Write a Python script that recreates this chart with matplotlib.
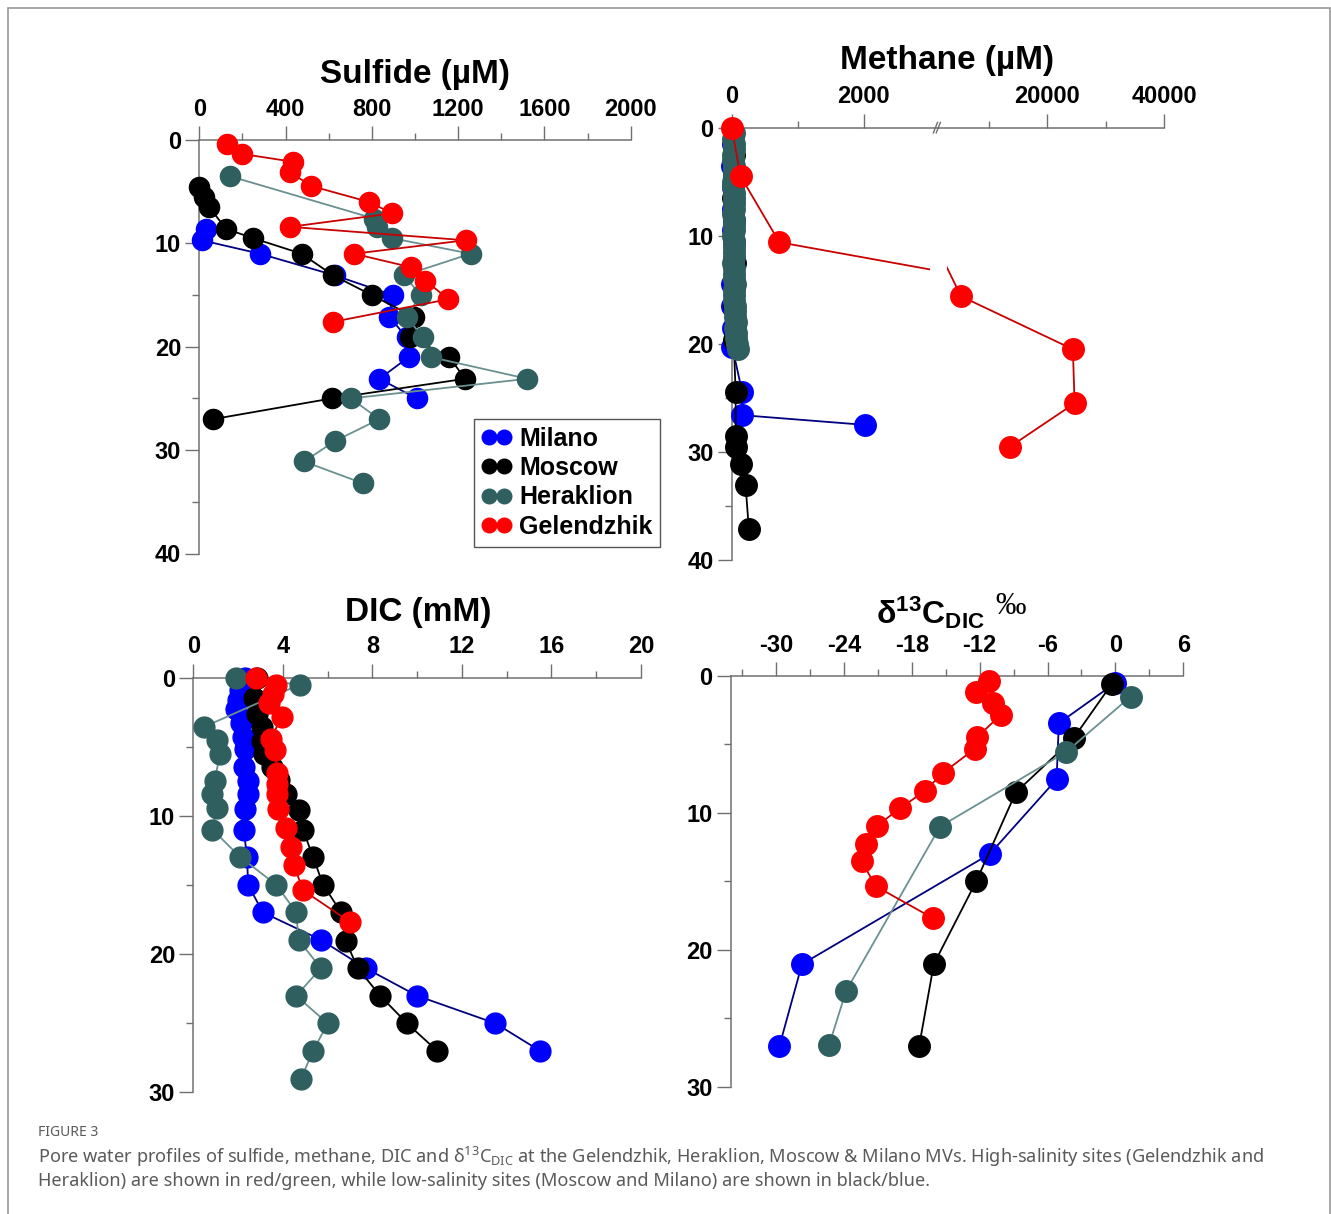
import matplotlib
matplotlib.use("Agg")
import matplotlib.pyplot as plt
from matplotlib.lines import Line2D
from matplotlib.patches import Rectangle
from matplotlib.transforms import Bbox, TransformedBbox

plt.rcParams["font.family"] = ["Liberation Sans", "DejaVu Sans"]
plt.rcParams["font.weight"] = "bold"
plt.rcParams["axes.unicode_minus"] = False
plt.rcParams["mathtext.fontset"] = "custom"
plt.rcParams["mathtext.rm"] = "Noto Sans"
plt.rcParams["mathtext.it"] = "Noto Sans:italic"
plt.rcParams["mathtext.bf"] = "Liberation Sans:bold"

W, H = 1331, 1214

SITES = ["Milano", "Moscow", "Heraklion", "Gelendzhik"]
MARKER_COLORS = ["#0000FF", "#000000", "#2F5F5F", "#FF0000"]
LINE_COLORS = ["#000080", "#000000", "#6A9090", "#C80000"]

# --- Sulfide (uM) vs depth ---
mil_sulf = [31, 11, 281, 629, 896, 881, 961, 971, 835, 1008]
mil_sulf_d = [8.6, 9.7, 11.0, 13.1, 15.0, 17.1, 19.1, 21.0, 23.1, 25.0]
mos_sulf = [0, 22, 46, 124, 250, 474, 621, 799, 995, 978, 1159, 1232, 614, 65]
mos_sulf_d = [4.5, 5.5, 6.5, 8.6, 9.5, 11.0, 13.1, 15.0, 17.1, 19.1, 21.0, 23.1, 25.0, 27.0]
her_sulf = [142, 810, 822, 893, 1258, 949, 1026, 961, 1036, 1073, 1521, 702, 835, 631, 485, 757]
her_sulf_d = [3.5, 7.6, 8.4, 9.5, 11.0, 13.1, 15.0, 17.1, 19.1, 21.0, 23.1, 25.0, 27.0, 29.1, 31.1, 33.2]
gel_sulf = [127, 199, 433, 420, 519, 788, 893, 420, 1235, 717, 980, 1048, 1155, 618]
gel_sulf_d = [0.4, 1.35, 2.1, 3.1, 4.45, 6.0, 7.1, 8.4, 9.7, 11.0, 12.3, 13.6, 15.4, 17.6]

# --- Methane (uM) vs depth ---
mil_meth = [20, 10, 15, 25, 20, 40, 30, 10, 5, 20, 10, 160, 160, 2025]
mil_meth_d = [1.5, 3.5, 5.5, 7.5, 9.5, 10.6, 12.5, 14.5, 16.5, 18.5, 20.3, 24.5, 26.6, 27.5]
mos_meth = [40, 30, 20, 35, 50, 40, 30, 60, 60, 60, 135, 210, 260]
mos_meth_d = [2.5, 4.5, 6.5, 8.5, 12.5, 16.5, 19.6, 24.5, 28.5, 29.5, 31.1, 33.1, 37.1]
her_meth = [30, 25, 35, 30, 20, 25, 30, 35, 30, 25, 20, 30, 35, 40, 30, 25, 30, 35, 30, 25, 30,
            40, 35, 30, 25, 30, 35, 40, 45, 40, 35, 40, 45, 50, 55, 60, 55, 60, 70, 80, 100]
her_meth_d = [0.5, 1.0, 1.5, 2.0, 2.5, 3.0, 3.5, 4.0, 4.5, 5.0, 5.5, 6.0, 6.5, 7.0, 7.5, 8.0, 8.5,
              9.0, 9.5, 10.0, 10.5, 11.0, 11.5, 12.0, 12.5, 13.0, 13.5, 14.0, 14.5, 15.0, 15.5,
              16.0, 16.5, 17.0, 17.5, 18.0, 18.5, 19.0, 19.5, 20.0, 20.5]
gel_meth = [0, 135, 722, 5260, 24400, 24700, 13700]
gel_meth_d = [0.0, 4.5, 10.6, 15.6, 20.5, 25.5, 29.5]

# --- DIC (mM) vs depth ---
mil_dic = [2.3, 2.1, 2.0, 1.9, 2.15, 2.2, 2.3, 2.25, 2.45, 2.45, 2.3, 2.25, 2.4, 2.45, 3.1,
           5.7, 7.7, 10.0, 13.5, 15.5]
mil_dic_d = [0.0, 0.9, 1.6, 2.3, 3.3, 4.3, 5.2, 6.45, 7.5, 8.4, 9.5, 11.0, 13.0, 15.0, 17.0,
             19.0, 21.05, 23.05, 25.05, 27.05]
mos_dic = [2.85, 2.7, 2.85, 3.05, 3.05, 3.15, 3.5, 3.85, 4.15, 4.7, 4.9, 5.35, 5.8, 6.6, 6.8,
           7.35, 8.35, 9.55, 10.9]
mos_dic_d = [0.0, 1.5, 2.6, 3.55, 4.6, 5.5, 6.45, 7.4, 8.4, 9.6, 11.0, 13.0, 15.0, 17.0, 19.05,
             21.05, 23.05, 25.05, 27.05]
her_dic = [1.9, 4.75, 0.5, 1.05, 1.2, 0.95, 0.85, 1.05, 0.85, 2.1, 3.7, 4.6, 4.7, 5.7, 4.6,
           6.0, 5.35, 4.8]
her_dic_d = [0.0, 0.5, 3.55, 4.5, 5.5, 7.45, 8.45, 9.45, 11.0, 13.0, 15.0, 17.0, 19.0, 21.05,
             23.05, 25.05, 27.05, 29.1]
gel_dic = [2.8, 3.7, 3.55, 3.4, 3.95, 3.45, 3.65, 3.75, 3.72, 3.72, 3.8, 4.15, 4.35, 4.5, 4.9, 7.0]
gel_dic_d = [0.0, 0.5, 1.15, 1.85, 2.85, 4.45, 5.25, 6.9, 7.7, 8.4, 9.5, 10.9, 12.3, 13.6, 15.4,
             17.7]

# --- d13C-DIC (permil) vs depth ---
mil_c13 = [0.0, -5.0, -5.2, -11.1, -27.7, -29.7]
mil_c13_d = [0.5, 3.45, 7.55, 13.0, 21.05, 27.05]
mos_c13 = [-0.3, -3.7, -8.8, -12.3, -16.05, -17.35]
mos_c13_d = [0.55, 4.55, 8.5, 15.0, 21.05, 27.05]
her_c13 = [1.35, -4.35, -15.5, -23.8, -25.3]
her_c13_d = [1.5, 5.55, 11.0, 23.0, 26.95]
gel_c13 = [-11.2, -12.3, -10.8, -10.15, -12.2, -12.4, -15.2, -16.85, -19.0, -21.1, -22.0,
           -22.4, -21.2, -16.1]
gel_c13_d = [0.4, 1.2, 2.0, 2.85, 4.45, 5.3, 7.05, 8.4, 9.65, 10.95, 12.3, 13.55, 15.35, 17.7]

AXC = "#707070"

fig = plt.figure(figsize=(W / 100, H / 100), dpi=100)


def px_axes(x0, x1, y0, y1):
    ax = fig.add_axes([x0 / W, 1 - y1 / H, (x1 - x0) / W, (y1 - y0) / H])
    ax.patch.set_visible(False)
    return ax


def style(ax, xlim, dmax, xmaj, xmin, ymaj=None, ymin=None, left=True):
    ax.set_xlim(*xlim)
    ax.set_ylim(dmax, 0)
    ax.xaxis.tick_top()
    for s in ["right", "bottom"]:
        ax.spines[s].set_visible(False)
    ax.spines["top"].set_color(AXC)
    ax.spines["top"].set_linewidth(1.1)
    ax.spines["left"].set_color(AXC)
    ax.spines["left"].set_linewidth(1.1)
    ax.set_xticks(xmaj)
    ax.set_xticks(xmin, minor=True)
    if left:
        ax.set_yticks(ymaj)
        ax.set_yticks(ymin, minor=True)
    else:
        ax.spines["left"].set_visible(False)
        ax.set_yticks([])
    ax.tick_params(which="major", length=10, width=1, color=AXC, labelsize=17)
    ax.tick_params(which="minor", length=5, width=1, color=AXC)
    ax.tick_params(axis="x", which="both", top=True, bottom=False, pad=4)
    ax.tick_params(axis="y", pad=3)


def profile(ax, x, d, i, ms=15, clip=False):
    return ax.plot(x, d, "-o", color=LINE_COLORS[i], lw=1.3, ms=ms,
                   mfc=MARKER_COLORS[i], mec=MARKER_COLORS[i], clip_on=clip,
                   label=SITES[i], zorder=3 + i)[0]


# Sulfide
ax_s = px_axes(199.3, 630.7, 140, 553.5)
style(ax_s, (0, 2000), 40, [0, 400, 800, 1200, 1600, 2000], [200, 600, 1000, 1400, 1800],
      [0, 10, 20, 30, 40], [5, 15, 25, 35])
sulf = [(mil_sulf, mil_sulf_d), (mos_sulf, mos_sulf_d), (her_sulf, her_sulf_d), (gel_sulf, gel_sulf_d)]
for i, (x, d) in enumerate(sulf):
    profile(ax_s, x, d, i, ms=14.5)

handles = [Line2D([], [], color=MARKER_COLORS[i], lw=1.3, marker="o", ms=10.5,
                  mfc=MARKER_COLORS[i], mec=MARKER_COLORS[i]) for i in range(4)]
leg = ax_s.legend(handles, SITES, loc="upper left", bbox_to_anchor=(474 / W, 1 - 419 / H),
                  bbox_transform=fig.transFigure, borderaxespad=0, fancybox=False,
                  edgecolor="#555555", framealpha=1, numpoints=2, handlelength=1.2,
                  handletextpad=0.3, labelspacing=0.22, borderpad=0.3,
                  prop={"size": 18, "weight": "bold"})
leg.get_frame().set_linewidth(1.0)

# Methane, broken axis
ax_ml = px_axes(731.7, 938.3, 127.7, 560)
style(ax_ml, (0, 3130), 40, [0, 2000], [1000], [0, 10, 20, 30, 40], [5, 15, 25, 35])
ax_mr = px_axes(938.3, 1164, 127.7, 560)
style(ax_mr, (1370, 40000), 40, [20000, 40000], [10000, 30000], left=False)

clip_l = TransformedBbox(Bbox([[-0.4, -0.1], [0.96, 1.1]]), ax_ml.transAxes)
clip_r = TransformedBbox(Bbox([[0.037, -0.1], [1.1, 1.1]]), ax_mr.transAxes)
meth = [(mil_meth, mil_meth_d), (mos_meth, mos_meth_d), (her_meth, her_meth_d), (gel_meth, gel_meth_d)]
for i, (x, d) in enumerate(meth):
    ln = profile(ax_ml, x, d, i, ms=15.5, clip=True)
    ln.set_clip_path(None)
    ln.set_clip_box(clip_l)
ln = profile(ax_mr, gel_meth, gel_meth_d, 3, ms=15.5, clip=True)
ln.set_clip_path(None)
ln.set_clip_box(clip_r)

for dx in (-0.014, 0.0):
    ax_ml.plot([1 + dx - 0.01, 1 + dx + 0.01], [0.988, 1.012], color=AXC, lw=1,
               transform=ax_ml.transAxes, clip_on=False)

# DIC
ax_d = px_axes(193.3, 641, 677.7, 1091.7)
style(ax_d, (0, 20), 30, [0, 4, 8, 12, 16, 20], [2, 6, 10, 14, 18], [0, 10, 20, 30], [5, 15, 25])
dic = [(mil_dic, mil_dic_d), (mos_dic, mos_dic_d), (her_dic, her_dic_d), (gel_dic, gel_dic_d)]
for i, (x, d) in enumerate(dic):
    profile(ax_d, x, d, i, ms=15)

# d13C
ax_c = px_axes(730.7, 1183.3, 676, 1086.7)
style(ax_c, (-34, 6), 30, [-30, -24, -18, -12, -6, 0, 6], [-33, -27, -21, -15, -9, -3, 3],
      [0, 10, 20, 30], [5, 15, 25])
c13 = [(mil_c13, mil_c13_d), (mos_c13, mos_c13_d), (her_c13, her_c13_d), (gel_c13, gel_c13_d)]
for i, (x, d) in enumerate(c13):
    profile(ax_c, x, d, i, ms=15.5)


# titles
def ftext(x, y, s, **kw):
    return fig.text(x / W, 1 - y / H, s, **kw)


ftext(415, 75, "Sulfide (µM)", ha="center", va="center", fontsize=24, fontweight="bold")
ftext(947, 60, "Methane (µM)", ha="center", va="center", fontsize=24, fontweight="bold")
ftext(418, 612, "DIC (mM)", ha="center", va="center", fontsize=24, fontweight="bold")
ftext(985, 613, r"$\mathbf{\delta^{13}C_{DIC}}$", ha="right", va="center", fontsize=23)
ftext(995, 607, "‰", ha="left", va="center", fontsize=22, fontweight="normal",
      family=["Liberation Serif", "DejaVu Serif"])

# caption
cap = "#5A5A5A"
ftext(38, 1133, "FIGURE 3", ha="left", va="center", fontsize=10, fontweight="normal",
      color=cap, family=["Noto Sans", "DejaVu Sans"])
ftext(38, 1157, r"Pore water profiles of sulfide, methane, DIC and δ$^{13}$C$_{\mathrm{DIC}}$ at the "
      r"Gelendzhik, Heraklion, Moscow & Milano MVs. High-salinity sites (Gelendzhik and",
      ha="left", va="center", fontsize=13.1, fontweight="normal", color=cap,
      family=["Noto Sans", "DejaVu Sans"])
ftext(38, 1181, "Heraklion) are shown in red/green, while low-salinity sites (Moscow and Milano) "
      "are shown in black/blue.", ha="left", va="center", fontsize=13.1, fontweight="normal",
      color=cap, family=["Noto Sans", "DejaVu Sans"])

fig.add_artist(Rectangle((7.5 / W, -0.02), (1330 - 7.5) / W, 1.02 - 7.5 / H,
                         transform=fig.transFigure, fill=False, edgecolor="#9A9A9A", lw=1.2))

fig.savefig("out.png", dpi=100)
